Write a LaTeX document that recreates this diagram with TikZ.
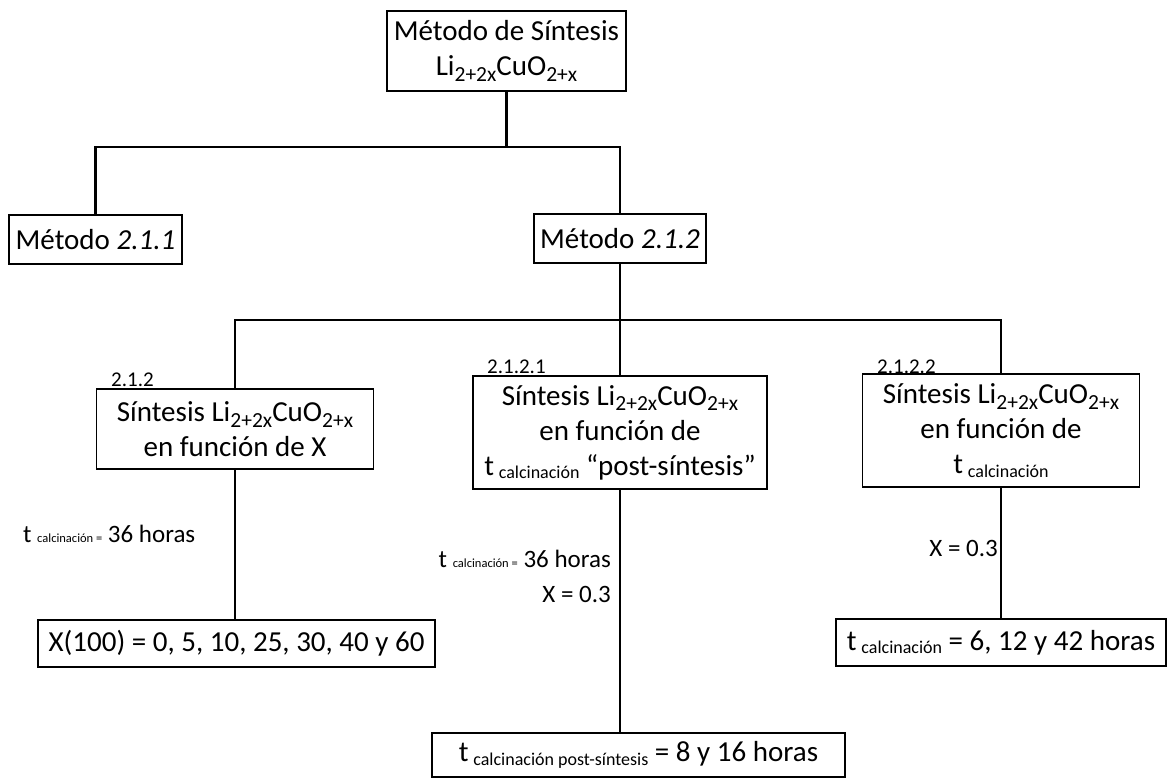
\documentclass[tikz,border=0pt]{standalone}
\usepackage{fontspec}
\setmainfont{Carlito}
\newcommand{\sz}[2]{\fontsize{#1}{#2}\selectfont}
\newcommand{\idx}[1]{\raisebox{-0.2em}{\fontsize{21.5}{21.5}\selectfont #1}}
\newcommand{\tcal}[1]{t\,\raisebox{-0.12em}{\fontsize{18}{18}\selectfont #1}}
\newcommand{\Lform}{Li\idx{2+2x}CuO\idx{2+x}}
\begin{document}
\begin{tikzpicture}[x=1pt,y=-1pt,
  box/.style={draw, line width=1.4pt, align=center, inner sep=0pt, font=\sz{29}{35}},
  conn/.style={line width=2.8pt},
  num/.style={inner sep=0pt, font=\sz{21}{21}},
  lab/.style={inner sep=0pt, font=\sz{25}{25}}]
\useasboundingbox (0,0) rectangle (1168,778);
% boxes
\node[box, minimum width=239, minimum height=80] (top) at (506.5,51) {Método de Síntesis\\\Lform};
\node[box, minimum width=173, minimum height=49] (m211) at (95.5,239.5) {Método \textit{2.1.1}};
\node[box, minimum width=172, minimum height=49] (m212) at (620,238.5) {Método \textit{2.1.2}};
\node[box, minimum width=277, minimum height=80] (s1) at (235,429) {Síntesis \Lform\\en función de X};
\node[box, minimum width=294, minimum height=113] (s2) at (620,432.5) {Síntesis \Lform\\en función de\\\tcal{calcinación} “post-síntesis”};
\node[box, minimum width=277, minimum height=113] (s3) at (1001,430.5) {Síntesis \Lform\\en función de\\\tcal{calcinación}};
\node[box, minimum width=397, minimum height=47] (r1) at (236.5,643.5) {X(100) = 0, 5, 10, 25, 30, 40 y 60};
\node[box, minimum width=413, minimum height=44] (r2) at (638.5,755) {\tcal{calcinación post-síntesis} = 8 y 16 horas};
\node[box, minimum width=330, minimum height=47] (r3) at (1001,642.5) {\tcal{calcinación} = 6, 12 y 42 horas};
% numbers
\node[num, anchor=base west] (n1) at (111,386) {2.1.2};
\node[num, anchor=base west] (n2) at (487,373) {2.1.2.1};
\node[num, anchor=base west] (n3) at (877,373) {2.1.2.2};
% labels
\node[lab, anchor=base west] (l1) at (23,542) {t {\sz{12.5}{12.5}calcinación =} 36 horas};
\node[lab, anchor=base east] (l2) at (611,567) {t {\sz{12.5}{12.5}calcinación =} 36 horas};
\node[lab, anchor=base east] (l3) at (611,602) {X = 0.3};
\node[lab, anchor=base east] (l4) at (998,556) {X = 0.3};
% connectors
\coordinate (j1) at (506.5,147);
\coordinate (j2) at (620,320);
\draw[conn] (top.south) -- (j1);
\draw[conn] (m211.north) |- (m212.north |- j1) -- (m212.north);
\draw[conn] (m212.south) -- (j2);
\draw[conn] (s1.north) |- (s3.north |- j2) -- (s3.north);
\draw[conn] (s2.north) -- (j2);
\draw[conn] (s1.south) -- (s1.south |- r1.north);
\draw[conn] (s2.south) -- (s2.south |- r2.north);
\draw[conn] (s3.south) -- (s3.south |- r3.north);
\end{tikzpicture}
\end{document}
